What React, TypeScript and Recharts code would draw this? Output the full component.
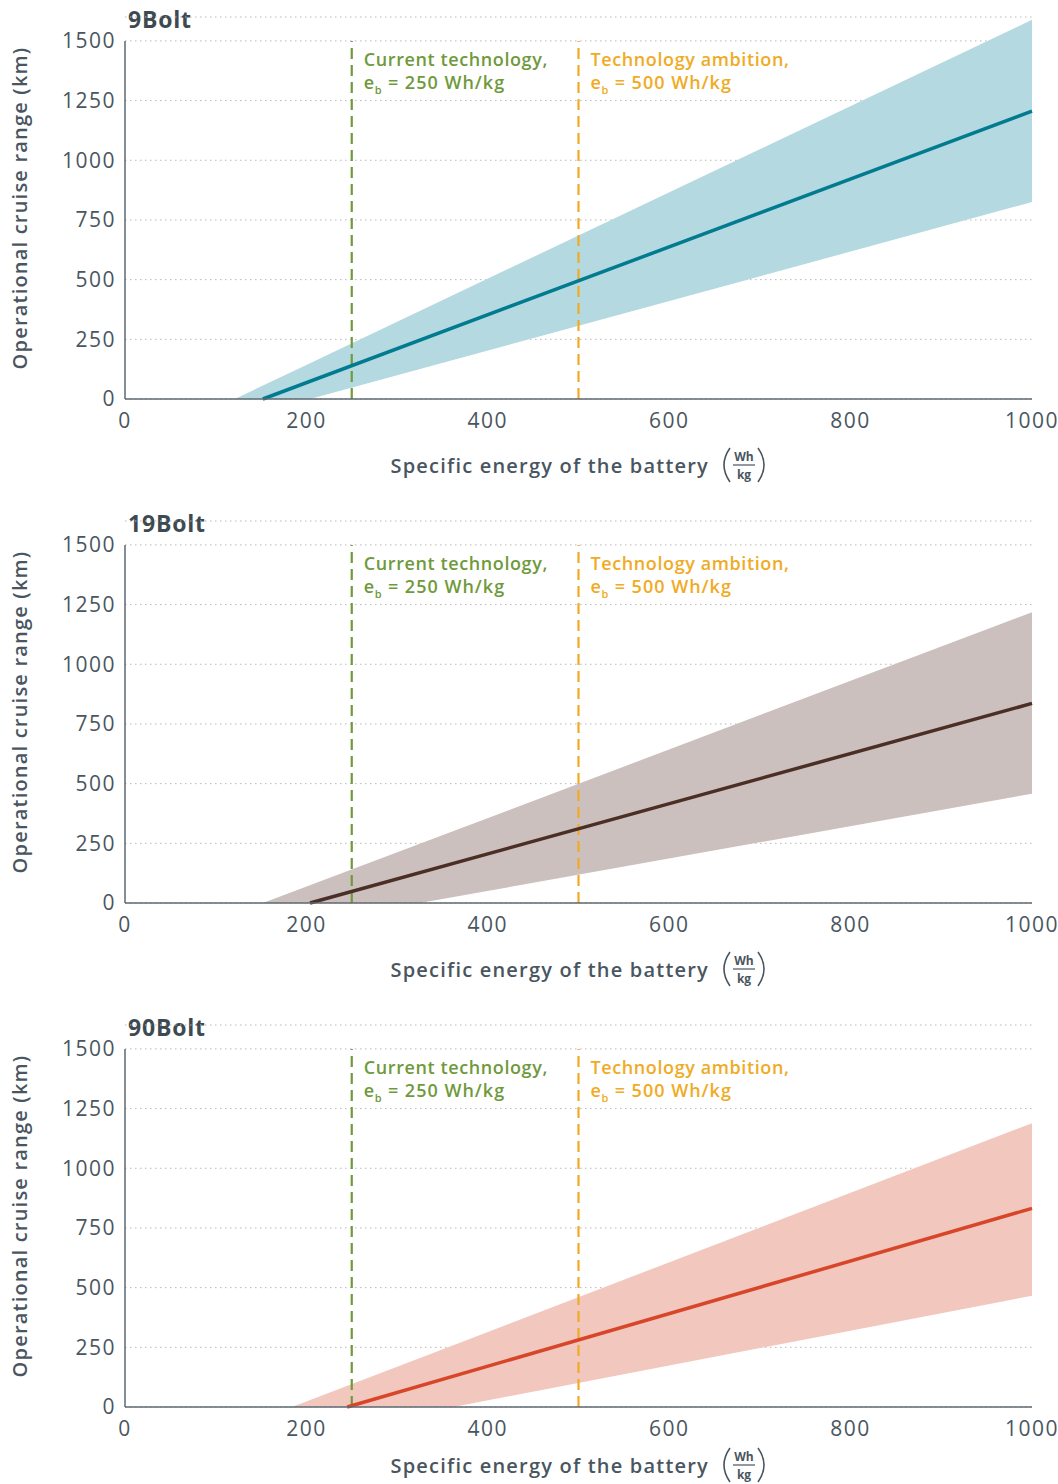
import {
  ComposedChart,
  Area,
  Line,
  XAxis,
  YAxis,
  CartesianGrid,
  ReferenceLine,
} from "recharts";

// x = specific energy (Wh/kg), y = operational cruise range (km)
const energyTicks = [0, 200, 400, 600, 800, 1000];
const rangeTicks = [0, 250, 500, 750, 1000, 1250, 1500];

const bolt9Band = [
  { e: 121, r: [0, 0] },
  { e: 204, r: [0, 150] },
  { e: 1000, r: [825, 1588] },
];
const bolt9Line = [
  { e: 152, v: 0 },
  { e: 1000, v: 1206 },
];

const bolt19Band = [
  { e: 152, r: [0, 0] },
  { e: 325, r: [0, 248] },
  { e: 1000, r: [458, 1218] },
];
const bolt19Line = [
  { e: 204, v: 0 },
  { e: 1000, v: 836 },
];

const bolt90Band = [
  { e: 184, r: [0, 0] },
  { e: 362, r: [0, 259] },
  { e: 1000, r: [466, 1189] },
];
const bolt90Line = [
  { e: 245, v: 0 },
  { e: 1000, v: 832 },
];

const currentTech = { e: 250, title: "Current technology,", value: "= 250 Wh/kg" };
const ambitionTech = { e: 500, title: "Technology ambition,", value: "= 500 Wh/kg" };

const FONT = "'Open Sans', 'Noto Sans', sans-serif";
const TEXT = "#4a565f";
const AXIS = "#5d6972";
const GREEN = "#6f9a3c";
const ORANGE = "#f0ab25";

const W = 1058;
const H = 504;

const techLabel = (t: { title: string; value: string }, color: string) =>
  (props: any) => {
    const vb = props.viewBox || {};
    const x = (vb.x ?? 0) + 12;
    const y = vb.y ?? 0;
    return (
      <g fontFamily={FONT} fontWeight={600} fontSize={18} fill={color} letterSpacing={0.6}>
        <text x={x} y={y + 25}>{t.title}</text>
        <text x={x} y={y + 48}>
          e
          <tspan fontSize={11} dy={5}>b</tspan>
          <tspan dy={-5} letterSpacing={1}>{"  "}{t.value}</tspan>
        </text>
      </g>
    );
  };

const YTitle = (props: any) => {
  const vb = props.viewBox || {};
  const cy = (vb.y ?? 0) + (vb.height ?? 0) / 2;
  return (
    <text
      x={19}
      y={cy}
      transform={`rotate(-90 19 ${cy})`}
      textAnchor="middle"
      dominantBaseline="central"
      fontFamily={FONT}
      fontWeight={600}
      fontSize={20}
      letterSpacing={1.2}
      fill={TEXT}
    >
      Operational cruise range (km)
    </text>
  );
};

const xTitle = (dy: number) => (props: any) => {
  const vb = props.viewBox || {};
  const x0 = vb.x ?? 0;
  const y0 = (vb.y ?? 0) + dy;
  const fx = x0 + 619;
  return (
    <g fontFamily={FONT} fill={TEXT}>
      <text x={x0 + 584} y={y0} textAnchor="end" dominantBaseline="central" fontWeight={600} fontSize={20} letterSpacing={1.2}>
        Specific energy of the battery
      </text>
      <path d={`M ${fx - 14} ${y0 - 17} Q ${fx - 26} ${y0} ${fx - 14} ${y0 + 17}`} stroke={TEXT} strokeWidth={1.6} fill="none" />
      <path d={`M ${fx + 14} ${y0 - 17} Q ${fx + 26} ${y0} ${fx + 14} ${y0 + 17}`} stroke={TEXT} strokeWidth={1.6} fill="none" />
      <text x={fx} y={y0 - 9} textAnchor="middle" dominantBaseline="central" fontWeight={700} fontSize={12}>
        Wh
      </text>
      <line x1={fx - 11} x2={fx + 11} y1={y0} y2={y0} stroke={TEXT} strokeWidth={1.2} />
      <text x={fx} y={y0 + 9} textAnchor="middle" dominantBaseline="central" fontWeight={700} fontSize={12}>
        kg
      </text>
    </g>
  );
};

type PanelProps = {
  title: string;
  band: { e: number; r: number[] }[];
  line: { e: number; v: number }[];
  lineColor: string;
  bandColor: string;
  xTitleDy?: number;
};

function Panel({ title, band, line, lineColor, bandColor, xTitleDy = 66 }: PanelProps) {
  return (
    <div style={{ position: "relative", width: W, height: H }}>
      <div
        style={{
          position: "absolute",
          left: 128,
          top: 3,
          lineHeight: "32px",
          fontFamily: FONT,
          fontWeight: 700,
          fontSize: 23,
          letterSpacing: 0.8,
          color: "#3e4a52",
        }}
      >
        {title}
      </div>
      <ComposedChart width={W} height={H} margin={{ top: 17, right: 26, bottom: 0, left: 0 }}>
        <XAxis
          type="number"
          dataKey="e"
          domain={[0, 1000]}
          ticks={energyTicks}
          tickLine={false}
          tickMargin={8}
          axisLine={{ stroke: AXIS, strokeWidth: 1.5 }}
          tick={{ fontSize: 21, fill: TEXT, fontFamily: FONT, letterSpacing: 1.5 }}
          height={105}
          label={xTitle(xTitleDy)}
        />
        <YAxis
          type="number"
          domain={[0, 1600]}
          ticks={rangeTicks}
          tickLine={false}
          axisLine={false}
          tickMargin={3}
          tick={{ fontSize: 21, fill: TEXT, fontFamily: FONT, letterSpacing: 1.5 }}
          width={125}
          label={YTitle}
        />
        <Area
          data={band}
          dataKey="r"
          type="linear"
          stroke="none"
          fill={bandColor}
          fillOpacity={1}
          isAnimationActive={false}
        />
        <CartesianGrid vertical={false} stroke="#b8b8b8" strokeDasharray="1.5 3.5" />
        <ReferenceLine
          segment={[{ x: 0, y: 0 }, { x: 0, y: 1500 }]}
          stroke={AXIS}
          strokeWidth={1.5}
        />
        <ReferenceLine
          segment={[{ x: currentTech.e, y: 0 }, { x: currentTech.e, y: 1500 }]}
          stroke={GREEN}
          strokeWidth={2.2}
          strokeDasharray="11 6"
          label={techLabel(currentTech, GREEN)}
        />
        <ReferenceLine
          segment={[{ x: ambitionTech.e, y: 0 }, { x: ambitionTech.e, y: 1500 }]}
          stroke={ORANGE}
          strokeWidth={2.2}
          strokeDasharray="11 6"
          label={techLabel(ambitionTech, ORANGE)}
        />
        <Line
          data={line}
          dataKey="v"
          type="linear"
          stroke={lineColor}
          strokeWidth={3.5}
          dot={false}
          isAnimationActive={false}
        />
      </ComposedChart>
    </div>
  );
}

export default function App() {
  return (
    <div style={{ position: "absolute", left: 0, top: 0, background: "#fff" }}>
      <Panel title="9Bolt" band={bolt9Band} line={bolt9Line} lineColor="#007b8f" bandColor="#b4d9e0" />
      <Panel title="19Bolt" band={bolt19Band} line={bolt19Line} lineColor="#4b2f27" bandColor="#cbc0bd" />
      <Panel title="90Bolt" band={bolt90Band} line={bolt90Line} lineColor="#d8462a" bandColor="#f2c7be" xTitleDy={58} />
    </div>
  );
}
